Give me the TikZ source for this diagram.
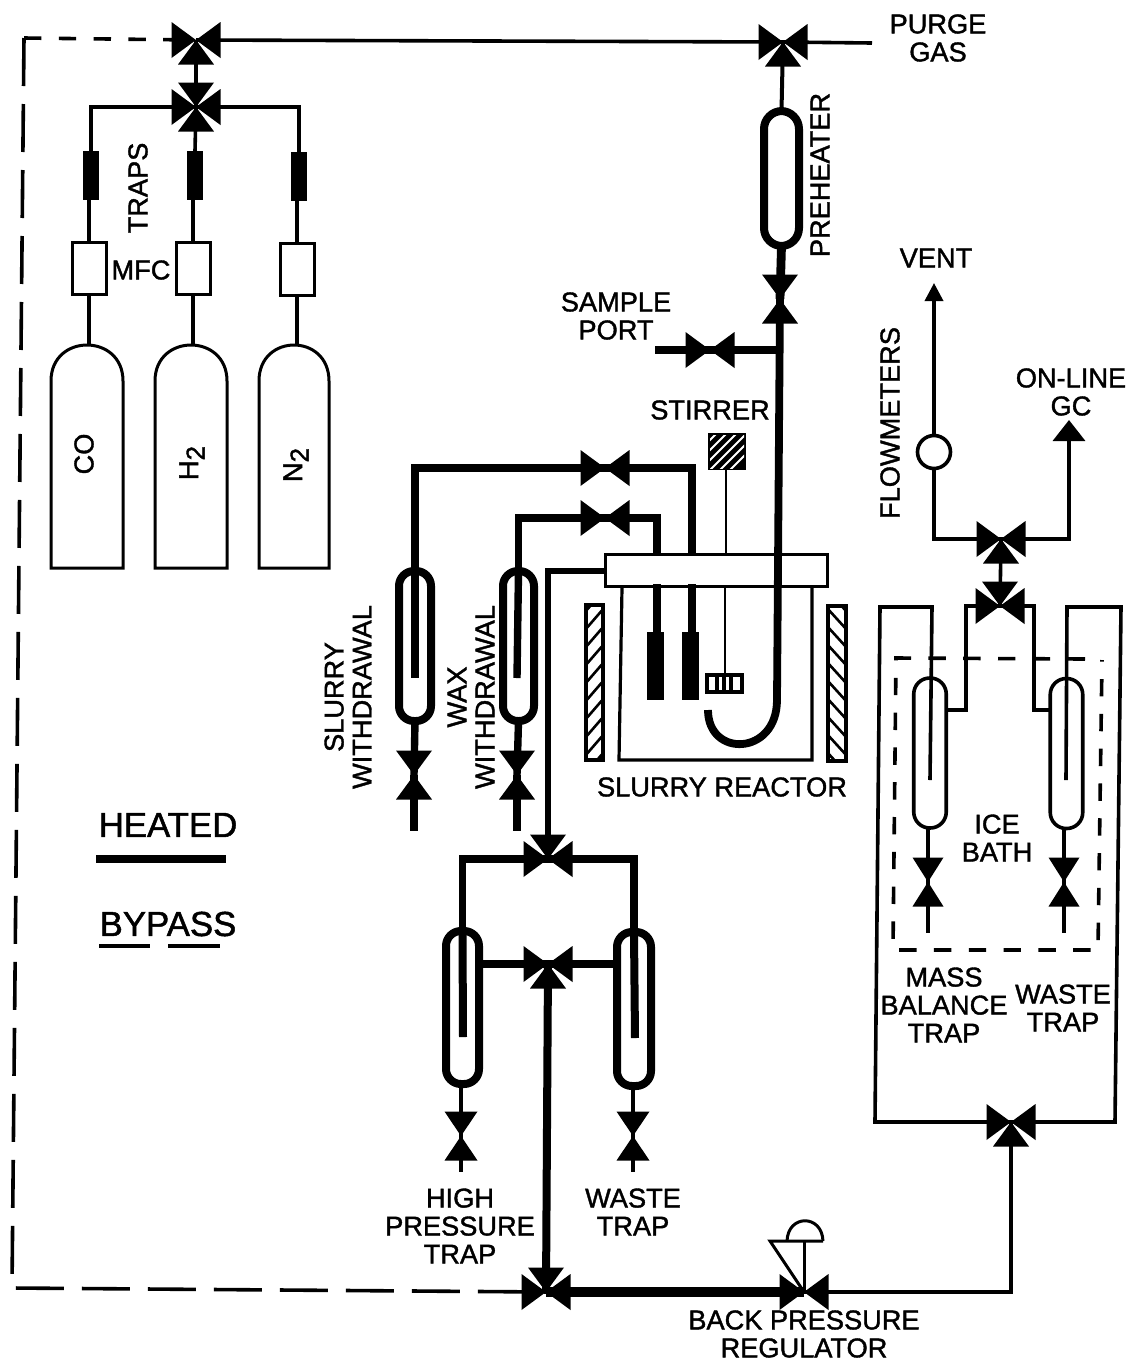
\documentclass[tikz,border=0pt]{standalone}
\usepackage{fontspec}
\setmainfont{Liberation Sans}[FakeBold=1.4]
\usetikzlibrary{arrows.meta}
\tikzset{
  x=0.5pt,y=-0.5pt,
  hair/.style={line width=1pt},
  thinline/.style={line width=1.8pt},
  heavy/.style={line width=3.7pt},
  xheavy/.style={line width=4.6pt},
  shortdash/.style={line width=1.8pt,dash pattern=on 8.7pt off 8.7pt},
  longdash/.style={line width=1.8pt,dash pattern=on 24pt off 9pt},
  lbl/.style={font=\fontsize{13.6}{14}\selectfont,align=center,inner sep=0pt,outer sep=0pt},
  big/.style={font=\fontsize{17.4}{18}\selectfont,inner sep=0pt},
  mfc/.style={draw,line width=1.5pt,fill=white,minimum width=17pt,minimum height=26pt,inner sep=0pt,outer sep=0pt},
  blacktrap/.style={fill=black,minimum width=8pt,minimum height=24.5pt,inner sep=0pt,outer sep=0pt},
  vessel/.style={draw,line width=4pt,rounded corners=7.5pt,inner sep=0pt,outer sep=0pt,minimum width=16pt,minimum height=75pt},
  icevessel/.style={draw,line width=1.8pt,rounded corners=8pt,inner sep=0pt,outer sep=0pt,minimum width=16.25pt,minimum height=75pt},
  dipbar/.style={fill=black,minimum width=8.5pt,minimum height=34pt,inner sep=0pt,outer sep=0pt}
}
\newcommand{\valve}[3][18]{\foreach \a in {#3}{\fill[black,shift={(#2)},rotate=\a] (0,0)--(-24.5,-#1)--(-24.5,#1)--cycle;}}
\begin{document}
\begin{tikzpicture}
\useasboundingbox (0,0) rectangle (1128,1362);
\fill[white] (0,0) rectangle (1128,1362);

% valves as named points
\coordinate (va) at (196,40);
\coordinate (vb) at (196,107);
\coordinate (vc) at (783,42);
\coordinate (vd) at (780,299);
\coordinate (ve) at (710,350);
\coordinate (vf) at (605,468);
\coordinate (vg) at (605,518);
\coordinate (vh) at (414,775);
\coordinate (vi) at (517,775);
\coordinate (vj) at (548,859);
\coordinate (vk) at (548,964);
\coordinate (vl) at (461,1136);
\coordinate (vm) at (633,1136);
\coordinate (vn) at (546,1292);
\coordinate (vo) at (804,1292);
\coordinate (vp) at (1001,539);
\coordinate (vq) at (1000,606);
\coordinate (vr) at (928,882);
\coordinate (vs) at (1064,882);
\coordinate (vt) at (1011,1122);

% free ends and bends
\coordinate (purge) at (872,43);
\coordinate (sample) at (655,350);
\coordinate (vh0) at (414,831);
\coordinate (vi0) at (517,831);
\coordinate (vl0) at (461,1172);
\coordinate (vm0) at (633,1172);
\coordinate (vr0) at (928,933);
\coordinate (vs0) at (1064,933);
\coordinate (dashA) at (24,38);
\coordinate (dashB) at (12,1288);

% cylinders
\draw[line width=1.5pt] (51,568)--(51,381) .. controls (51,333) and (123,333) .. (123,381)--(123,568)--cycle;
\draw[line width=1.5pt] (155,568)--(155,381) .. controls (155,333) and (227,333) .. (227,381)--(227,568)--cycle;
\draw[line width=1.5pt] (259,568)--(259,381) .. controls (259,333) and (329,333) .. (329,381)--(329,568)--cycle;
\coordinate (c1) at (89,345);
\coordinate (c2) at (193,345);
\coordinate (c3) at (297,345);

% gas feeds
\node[mfc] (m1) at (89,268) {};
\node[mfc] (m2) at (193,268.5) {};
\node[mfc] (m3) at (297,269) {};
\node[blacktrap] (b1) at (91,175) {};
\node[blacktrap] (b2) at (195,175.5) {};
\node[blacktrap] (b3) at (299,176) {};
\draw[thinline] (m1.south)--(c1);
\draw[thinline] (m2.south)--(c2);
\draw[thinline] (m3.south)--(c3);
\draw[thinline] (b1.south-|m1.north)--(m1.north);
\draw[thinline] (b2.south-|m2.north)--(m2.north);
\draw[thinline] (b3.south-|m3.north)--(m3.north);
\draw[thinline] (vb) -| (b1.north);
\draw[thinline] (vb) -- (b2.north);
\draw[thinline] (vb) -| (b3.north);
\draw[thinline] (va)--(vb);
\draw[thinline] (va)--(vc);
\draw[thinline] (vc)--(purge);
% bypass
\draw[shortdash] (dashA)--(va);
\draw[longdash] (dashA)--(dashB)--(vn);

% reactor
\fill (708,433) rectangle (746,470);
\begin{scope}
\clip (710,435) rectangle (744,468);
\foreach \i in {430,440,...,490}{\draw[white,line width=1pt] (700,\i+10)--(750,\i-40);}
\end{scope}
\node[draw,line width=1.6pt,fill=white,minimum width=111pt,minimum height=16pt,inner sep=0pt,outer sep=0pt] (plate) at (716.5,570.5) {};
\coordinate (stir) at (726,470);
\draw[line width=1.2pt] (stir)--(726,553);
\draw[line width=1.2pt] (725,588)--(725,675);
\draw[line width=1.6pt] (622,588)--(619,760)--(812,760)--(812,588);
% impeller
\draw[line width=1.6pt,fill=white] (707,675) rectangle (742,692);
\fill (715,676) rectangle (719,691);
\fill (722,676) rectangle (726,691);
\fill (729,676) rectangle (733,691);
% heaters
\begin{scope}
\clip (585,604) rectangle (604,760);
\foreach \i in {590,608,...,800}{\draw[line width=1.3pt] (585,\i+22)--(604,\i);}
\end{scope}
\draw[line width=1.6pt] (586,605) rectangle (603,760);
\begin{scope}
\clip (827,605) rectangle (847,761);
\foreach \i in {590,608,...,800}{\draw[line width=1.3pt] (827,\i)--(847,\i+22);}
\end{scope}
\draw[line width=1.6pt] (828,606) rectangle (846,761);
% dip tubes
\node[dipbar] (dipa) at (655.5,666) {};
\node[dipbar] (dipb) at (690.5,666) {};
\coordinate (pa) at (657,556);
\coordinate (pb) at (692,556);
\coordinate (qa) at (657,584);
\coordinate (qb) at (692,584);
\draw[line width=4.2pt] (qa)--(dipa.north-|qa);
\draw[line width=4.2pt] (qb)--(dipb.north-|qb);

% preheater and reactor feed
\node[vessel,minimum width=17.5pt,minimum height=67.5pt,rounded corners=9pt] (ph) at (781.5,178.5) {};
\draw[line width=2pt] (vc)--(ph.north);
\draw[line width=4.4pt] (ph.south)--(vd);
\coordinate (jt) at (777,700);
\coordinate (je) at (708,710);
\draw[line width=3.9pt] (vd)--(jt) .. controls (777,756) and (708,758) .. (je);
\draw[heavy] (sample)--(ve)--(vd|-ve);

% slurry and wax
\node[vessel] (st) at (415,646) {};
\node[vessel,minimum width=15.5pt] (wt) at (518.5,646) {};
\coordinate (sti) at (415,678);
\coordinate (wti) at (517,678);
\draw[heavy] (vf) -| (st.north);
\draw[heavy] (st.north)--(sti);
\draw[heavy] (vg) -| (wt.north);
\draw[heavy] (wt.north)--(wti);
\draw[line width=4pt] (vf) -| (pb);
\draw[heavy] (vg) -| (pa);
\draw[heavy] (st.south)--(vh);
\draw[heavy] (vh)--(vh0);
\draw[heavy] (wt.south)--(vi);
\draw[heavy] (vi)--(vi0);

% reactor outlet
\coordinate (out) at (607,571);
\draw[line width=3.4pt] (out) -| (vj);

% high pressure traps
\node[vessel,minimum width=16.5pt,minimum height=76.5pt] (ta) at (462.5,1007.5) {};
\node[vessel,minimum width=17pt,minimum height=77pt] (tb) at (634,1009) {};
\coordinate (tai) at (463,1037);
\coordinate (tbi) at (635,1038);
\draw[heavy] (vj) -| (ta.north);
\draw[heavy] (vj) -| (tb.north);
\draw[line width=4pt] (ta.north)--(tai);
\draw[line width=4pt] (tb.north)--(tbi);
\draw[heavy] (vk)--(vk-|ta.east);
\draw[heavy] (vk)--(vk-|tb.west);
\draw[line width=4pt] (vk)--(vn);
\draw[line width=2.3pt] (ta.south-|vl)--(vl);
\draw[line width=2.3pt] (tb.south-|vm)--(vm);
\draw[line width=2.3pt] (vl)--(vl0);
\draw[line width=2.3pt] (vm)--(vm0);
\draw[xheavy] (vn)--(vo);
% back pressure regulator
\coordinate (bprA) at (770,1241);
\coordinate (bprB) at (823,1241);
\coordinate (bprC) at (787,1241);
\coordinate (bprD) at (804,1241);
\draw[line width=1.5pt] (vo)--(bprA)--(bprB);
\draw[line width=1.5pt] (vo)--(bprD);
\draw[line width=1.5pt] (bprC) .. controls (788,1214) and (822,1214) .. (bprB);
\draw[thinline] (vo) -| (vt);

% ice bath side
\node[icevessel] (ia) at (930,753) {};
\node[icevessel] (ib) at (1066.5,753.5) {};
\coordinate (ua) at (880,607);
\coordinate (ub) at (932,607);
\coordinate (uc) at (875,1122);
\coordinate (ud) at (1121,607);
\coordinate (ue) at (1067,607);
\coordinate (uf) at (1115,1122);
\coordinate (iai) at (930,780);
\coordinate (ibi) at (1066,780);
\coordinate (ra) at (966,710);
\coordinate (rb) at (1034,710);
\draw[thinline] (vt)--(uc)--(ua)--(ub)--(iai);
\draw[thinline] (vt)--(uf)--(ud)--(ue)--(ibi);
\draw[thinline] (vq) -| (ra)--(ra-|ia.east);
\draw[thinline] (vq) -| (rb)--(rb-|ib.west);
\draw[thinline] (vp)--(vq);
\draw[thinline] (ia.south-|vr)--(vr)--(vr0);
\draw[thinline] (ib.south-|vs)--(vs)--(vs0);
\coordinate (dA) at (1085,659);
\coordinate (dB) at (896,658);
\coordinate (dC) at (893,950);
\coordinate (dD) at (1098,950);
\coordinate (dE) at (1102,660);
\draw[shortdash] (dA)--(dB)--(dC)--(dD)--(dE);

% flowmeter and outlets
\node[draw,circle,thinline,fill=white,minimum size=16.5pt,inner sep=0pt,outer sep=0pt] (fm) at (934,452) {};
\coordinate (vent) at (934,283);
\coordinate (gc) at (1069,420);
\draw[thinline,-{Triangle[length=9pt,width=9pt]}] (fm.north)--(vent);
\draw[thinline] (fm.south) |- (vp);
\draw[thinline,-{Triangle[length=10.5pt,width=16pt]}] (vp) -| (gc);

% draw valves on top
\valve{va}{0,180,90}
\valve{vb}{0,180,90,270}
\valve{vc}{0,180,90}
\valve{vd}{90,270}
\valve{ve}{0,180}
\valve{vf}{0,180}
\valve{vg}{0,180}
\valve{vh}{90,270}
\valve{vi}{90,270}
\valve{vj}{0,180,270}
\valve{vk}{0,180,90}
\valve[16.5]{vl}{90,270}
\valve[16.5]{vm}{90,270}
\valve{vn}{0,180,270}
\valve{vo}{0,180}
\valve{vp}{0,180,90}
\valve{vq}{0,180,270}
\valve[15.5]{vr}{90,270}
\valve[15.5]{vs}{90,270}
\valve{vt}{0,180,90}

% legend
\node[big] (heated) at (168,825) {HEATED};
\coordinate (ha) at (96,859);
\coordinate (hb) at (226,859);
\draw[line width=4pt] (ha)--(hb);
\node[big] (bypass) at (168,924) {BYPASS};
\coordinate (ka) at (99,946);
\coordinate (kb) at (150,946);
\coordinate (kc) at (168,946);
\coordinate (kd) at (220,946);
\draw[thinline] (ka)--(kb);
\draw[thinline] (kc)--(kd);

% labels
\node[lbl] (lpurge) at (938,38) {PURGE\\GAS};
\node[lbl,rotate=90] (lpre) at (820,175) {PREHEATER};
\node[lbl,rotate=90] (ltraps) at (138,188) {TRAPS};
\node[lbl] (lmfc) at (141,270) {MFC};
\node[lbl,rotate=90] (lco) at (84,454) {CO};
\node[lbl,rotate=90] (lh) at (192,463) {H\raisebox{-0.45ex}{\fontsize{13}{13}\selectfont 2}};
\node[lbl,rotate=90] (ln) at (296,465) {N\raisebox{-0.45ex}{\fontsize{13}{13}\selectfont 2}};
\node[lbl] (lsample) at (616,316) {SAMPLE\\PORT};
\node[lbl] (lstir) at (710,410) {STIRRER};
\node[lbl] (lvent) at (936,258) {VENT};
\node[lbl,rotate=90] (lflow) at (890,423) {FLOWMETERS};
\node[lbl] (lgc) at (1071,392) {ON-LINE\\GC};
\node[lbl,rotate=90] (lslurry) at (348,697) {SLURRY\\WITHDRAWAL};
\node[lbl,rotate=90] (lwax) at (471,697) {WAX\\WITHDRAWAL};
\node[lbl] (lreact) at (722,787) {SLURRY REACTOR};
\node[lbl] (lice) at (997,838) {ICE\\BATH};
\node[lbl] (lmass) at (944,1005) {MASS\\BALANCE\\TRAP};
\node[lbl] (lwaste) at (1063,1008) {WASTE\\TRAP};
\node[lbl] (lhigh) at (460,1226) {HIGH\\PRESSURE\\TRAP};
\node[lbl] (lwaste2) at (633,1212) {WASTE\\TRAP};
\node[lbl] (lback) at (804,1334) {BACK PRESSURE\\REGULATOR};
\end{tikzpicture}
\end{document}
